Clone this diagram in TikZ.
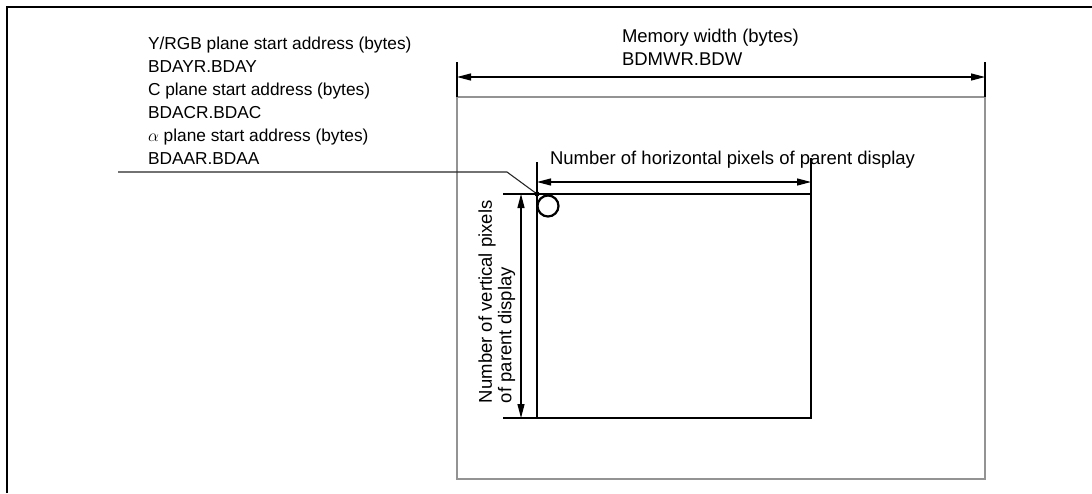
\documentclass[tikz,border=0pt]{standalone}
\usepackage{fontspec}
\setmainfont{Liberation Sans}
\usetikzlibrary{arrows.meta, positioning, calc}

\begin{document}
\begin{tikzpicture}[
        x=1pt, y=-1pt,
        every node/.style={inner sep=0pt, outer sep=0pt},
        txt/.style={align=left, anchor=north west, font=\fontsize{18.5}{23}\selectfont},
        outerframe/.style={line width=2.4pt},
        membox/.style={rectangle, draw=gray!85, line width=2.5pt, minimum width=528pt, minimum height=382pt},
        dispbox/.style={rectangle, draw=black, line width=2.4pt, minimum width=274pt, minimum height=224pt},
        dim/.style={{Triangle[length=14pt,width=7pt]}-{Triangle[length=14pt,width=7pt]}, line width=1.2pt},
        ext/.style={line width=1.1pt}
    ]

    \useasboundingbox (0,0) rectangle (1092,493);
    \draw [outerframe] (7,493) -- (7,7) -- (1092,7);

    \node (memory) [membox, anchor=north west] at (457,97) {};
    \node (display) [dispbox, anchor=north west] at (537,194) {};

    % memory width
    \coordinate (mw-left) at ($(memory.north west)+(0,-20)$);
    \coordinate (mw-right) at ($(memory.north east)+(0,-20)$);
    \draw [ext] (memory.north west) -- ++(0,-35);
    \draw [ext] (memory.north east) -- ++(0,-35);
    \draw [dim] (mw-left) -- (mw-right);
    \node (mwtext) [txt] at (622,29) {Memory width (bytes)\\BDMWR.BDW};

    % horizontal pixels
    \coordinate (hp-left) at ($(display.north west)+(0,-12)$);
    \coordinate (hp-right) at ($(display.north east)+(0,-12)$);
    \draw [ext] (display.north west) -- ++(0,-32);
    \draw [ext] (display.north east) -- ++(0,-36);
    \draw [dim] (hp-left) -- (hp-right);
    \node (hptext) [txt] at (550,151.5) {Number of horizontal pixels of parent display};

    % vertical pixels
    \coordinate (vp-top) at ($(display.north west)+(-16,0)$);
    \coordinate (vp-bottom) at ($(display.south west)+(-16,0)$);
    \draw [ext] (display.north west) -- ++(-34,0);
    \draw [ext] (display.south west) -- ++(-34,0);
    \draw [dim] (vp-top) -- (vp-bottom);
    \node (vptext) [txt, rotate=90, font=\fontsize{18.5}{19.5}\selectfont] at (478.5,403) {Number of vertical pixels\\of parent display};

    % start addresses
    \node (addr) [txt, font=\fontsize{17.3}{23}\selectfont] at (148,36.5) {Y/RGB plane start address (bytes)\\BDAYR.BDAY\\C plane start address (bytes)\\BDACR.BDAC\\$\alpha$ plane start address (bytes)\\BDAAR.BDAA};
    \coordinate (lead-start) at (118,172);
    \coordinate (lead-bend) at (507,172);
    \draw [ext, black!85] (lead-start) -- (lead-bend) -- (display.north west);
    \fill (display.north west) circle (2.6);
    \node (startmark) [circle, draw, line width=2.2pt, minimum size=21pt] at ($(display.north west)+(11,12)$) {};

\end{tikzpicture}
\end{document}
